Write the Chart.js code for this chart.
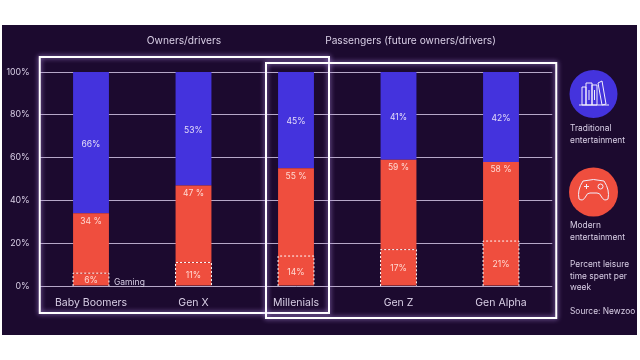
<!DOCTYPE html>
<html><head><meta charset="utf-8">
<style>html,body{margin:0;padding:0;background:#fff}#w{position:relative;width:640px;height:360px}canvas{display:block}</style>
<script src="https://cdn.jsdelivr.net/npm/chart.js@4"></script></head>
<body><div id="w"><canvas id="c" width="640" height="360"></canvas></div>
<script>
const categories=['Baby Boomers','Gen X','Millenials','Gen Z','Gen Alpha'];
const gaming=[6,11,14,17,21];
const modernTotal=[34,47,55,59,58];
const traditional=[66,53,45,41,42];
const modernRest=modernTotal.map((v,i)=>v-gaming[i]);
const yTicks=[0,20,40,60,80,100];
const FONT='Inter, sans-serif';
const INK='#d9cfe6';
function glowRect(ctx,x,y,w,h){
  ctx.save();ctx.strokeStyle='#ffffff';ctx.lineWidth=2;ctx.shadowColor='#b48fe6';ctx.shadowBlur=5;
  ctx.strokeRect(x,y,w,h);ctx.restore();
}
function text(ctx,s,x,y,size,color,align){
  ctx.font=size+'px '+FONT;ctx.fillStyle=color;ctx.textAlign=align||'center';ctx.textBaseline='middle';ctx.fillText(s,x,y);
}
const bgPlugin={id:'bg',beforeDraw(ch){const c=ch.ctx;c.save();c.fillStyle='#fff';c.fillRect(0,0,640,360);c.fillStyle='#1c0a2f';c.fillRect(2,25,635,310);c.restore();}};
const overlay={id:'overlay',afterDraw(ch){
  const c=ch.ctx,x=ch.scales.x,y=ch.scales.y,a=ch.chartArea;c.save();
  const step=x.getPixelForValue(1)-x.getPixelForValue(0),bw=step*0.35;
  categories.forEach((_,i)=>{
    const cx=x.getPixelForValue(i),l=cx-bw/2,top=y.getPixelForValue(gaming[i]),b=y.getPixelForValue(0);
    c.save();c.strokeStyle='#fff';c.lineWidth=1;c.setLineDash([2,2]);c.beginPath();c.moveTo(l,b);c.lineTo(l,top);c.lineTo(l+bw,top);c.lineTo(l+bw,b);c.stroke();c.restore();
    text(c,gaming[i]+'%',cx,y.getPixelForValue(gaming[i]/2)+1,8.5,'#ffd9d2');
    text(c,modernTotal[i]+' %',cx,y.getPixelForValue(modernTotal[i])+8,8.5,'#ffd9d2');
    text(c,traditional[i]+'%',cx,y.getPixelForValue(modernTotal[i]+traditional[i]/2)+1.5,8.5,'#e4dcf8');
  });
  text(c,'Gaming',114,282,8.5,INK,'left');
  text(c,'Owners/drivers',184,40.5,10.2,INK);
  text(c,'Passengers (future owners/drivers)',410.5,40.5,10.2,INK);
  glowRect(c,a.left,a.top-15,x.getPixelForValue(2)+33-a.left,a.bottom-a.top+42);
  glowRect(c,x.getPixelForValue(2)-30,a.top-9,a.right+4-x.getPixelForValue(2)+30,a.bottom-a.top+41);
  // legend icons
  c.fillStyle='#4433dd';c.beginPath();c.arc(593.5,94,24,0,7);c.fill();
  c.fillStyle='#ef4e3e';c.beginPath();c.arc(593.5,192,24.5,0,7);c.fill();
  c.strokeStyle='#f2eefc';c.lineWidth=1;c.lineJoin='round';
  // books
  c.beginPath();c.rect(582,87,4,18);c.rect(586,83,6,22);c.rect(592,85,5,20);
  c.moveTo(598,83);c.lineTo(602,81);c.lineTo(606,104);c.lineTo(602,105);c.closePath();
  c.moveTo(579,105);c.lineTo(609,105);c.moveTo(589,90);c.lineTo(589,100);c.moveTo(594.5,90);c.lineTo(594.5,100);c.stroke();
  // gamepad
  c.beginPath();c.moveTo(583,181);c.quadraticCurveTo(593.5,178,604,181);c.quadraticCurveTo(610,190,608,199);c.quadraticCurveTo(604,202,601,196);c.quadraticCurveTo(600,193,597,193);c.lineTo(590,193);c.quadraticCurveTo(587,193,586,196);c.quadraticCurveTo(583,202,579,199);c.quadraticCurveTo(577,190,583,181);c.stroke();
  c.beginPath();c.moveTo(584,186.5);c.lineTo(589,186.5);c.moveTo(586.5,184);c.lineTo(586.5,189);c.stroke();
  c.beginPath();c.arc(600.5,186.5,2.5,0,7);c.stroke();
  [['Traditional',128.5],['entertainment',140],['Modern',225],['entertainment',237],['Percent leisure',264],['time spent per',276],['week',287.5],['Source: Newzoo',311]].forEach(t=>text(c,t[0],570,t[1],8.4,INK,'left'));
  c.restore();
}};
Chart.defaults.animation=false;
new Chart(document.getElementById('c'),{
  type:'bar',
  data:{labels:categories,datasets:[
    {label:'Gaming',data:gaming,backgroundColor:'#ef4e3e'},
    {label:'Modern entertainment',data:modernRest,backgroundColor:'#ef4e3e'},
    {label:'Traditional entertainment',data:traditional,backgroundColor:'#4433dd'}
  ]},
  plugins:[bgPlugin,overlay],
  options:{responsive:false,animation:false,
    layout:{padding:{left:0,right:87.75,top:72,bottom:34}},
    datasets:{bar:{categoryPercentage:1,barPercentage:0.35,borderWidth:0}},
    plugins:{legend:{display:false},tooltip:{enabled:false}},
    scales:{
      x:{stacked:true,afterFit(s){s.height=40},grid:{display:false},border:{display:false},
         ticks:{color:INK,font:{family:FONT,size:10.5},padding:3,maxRotation:0}},
      y:{stacked:true,min:0,max:100,afterFit(s){s.width=39.75},
         afterBuildTicks(s){s.ticks=yTicks.map(v=>({value:v}))},
         grid:{color:'#b6a8c8',lineWidth:1,drawTicks:false},border:{display:false},
         ticks:{color:INK,font:{family:FONT,size:8.8},padding:10,callback:v=>v+'%'}}
    }
  }
});
</script></body></html>
